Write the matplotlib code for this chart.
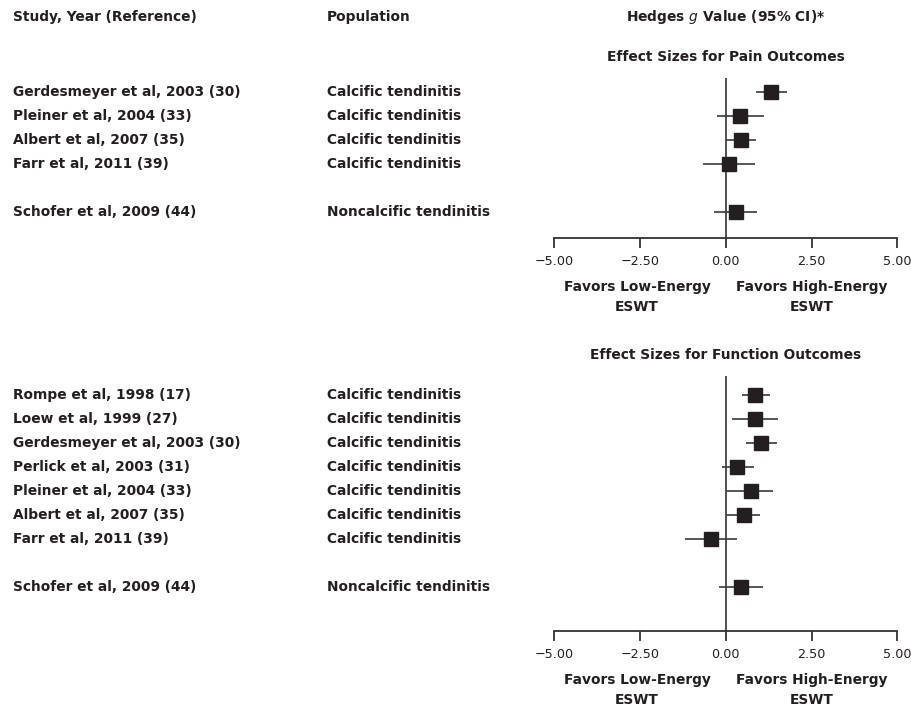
import matplotlib
matplotlib.use("Agg")
import matplotlib.pyplot as plt
import matplotlib.transforms as mtransforms

# pain outcomes
pain_studies = ["Gerdesmeyer et al, 2003 (30)", "Pleiner et al, 2004 (33)",
                "Albert et al, 2007 (35)", "Farr et al, 2011 (39)",
                "Schofer et al, 2009 (44)"]
pain_pop = ["Calcific tendinitis", "Calcific tendinitis", "Calcific tendinitis",
            "Calcific tendinitis", "Noncalcific tendinitis"]
pain_rows = [0, 1, 2, 3, 5]
pain_g = [1.33, 0.42, 0.45, 0.10, 0.30]
pain_lo = [0.89, -0.27, 0.00, -0.66, -0.34]
pain_hi = [1.78, 1.12, 0.88, 0.85, 0.92]

# function outcomes
func_studies = ["Rompe et al, 1998 (17)", "Loew et al, 1999 (27)",
                "Gerdesmeyer et al, 2003 (30)", "Perlick et al, 2003 (31)",
                "Pleiner et al, 2004 (33)", "Albert et al, 2007 (35)",
                "Farr et al, 2011 (39)", "Schofer et al, 2009 (44)"]
func_pop = ["Calcific tendinitis"] * 7 + ["Noncalcific tendinitis"]
func_rows = [0, 1, 2, 3, 4, 5, 6, 8]
func_g = [0.86, 0.84, 1.04, 0.33, 0.74, 0.53, -0.43, 0.45]
func_lo = [0.46, 0.19, 0.60, -0.12, 0.02, 0.02, -1.20, -0.19]
func_hi = [1.28, 1.52, 1.49, 0.81, 1.37, 0.99, 0.32, 1.09]

ticks = [-5, -2.5, 0, 2.5, 5]
tick_labels = ["\u22125.00", "\u22122.50", "0.00", "2.50", "5.00"]

W, H = 912, 712
INK = "#231f20"
FS = 9.9
plt.rcParams["font.family"] = ["DejaVu Sans"]

fig = plt.figure(figsize=(W / 100, H / 100), dpi=100)


def fx(px):
    return px / W


def fy(py):
    return 1 - py / H


def panel(top_px, bottom_px, first_row_px, step_px, title, title_px,
          studies, pops, rows, g, lo, hi):
    x0, x1 = 554.3, 897.3
    ax = fig.add_axes([fx(x0), fy(bottom_px), fx(x1 - x0),
                       (bottom_px - top_px) / H])
    ax.set_xlim(-5, 5)
    ax.set_ylim((bottom_px - first_row_px) / step_px,
                (top_px - first_row_px) / step_px)
    for s in ["top", "right", "left"]:
        ax.spines[s].set_visible(False)
    ax.spines["bottom"].set_linewidth(1.3)
    ax.spines["bottom"].set_color("#333333")
    ax.set_yticks([])
    ax.set_xticks(ticks)
    ax.set_xticklabels(tick_labels)
    ax.tick_params(axis="x", direction="out", length=7, width=1.3,
                   color="#333333", labelsize=9.2, labelcolor=INK, pad=5)
    ax.patch.set_alpha(0)
    ax.axvline(0, color="#333333", lw=1.2, zorder=1)
    ax.hlines(rows, lo, hi, color="#3a3a3a", lw=1.2, zorder=2)
    ax.plot(g, rows, "s", color=INK, markersize=10.5, zorder=3)

    trans = mtransforms.blended_transform_factory(fig.transFigure, ax.transData)
    for r, s, p in zip(rows, studies, pops):
        ax.text(fx(13), r, s, transform=trans, ha="left", va="center",
                fontsize=FS, fontweight="bold", color=INK)
        ax.text(fx(327), r, p, transform=trans, ha="left", va="center",
                fontsize=FS, fontweight="bold", color=INK)

    fig.text(fx(726), fy(title_px), title, ha="center", va="center",
             fontsize=FS, fontweight="bold", color=INK)
    fig.text(fx(637), fy(bottom_px + 59), "Favors Low-Energy\nESWT",
             ha="center", va="center", fontsize=FS, fontweight="bold",
             color=INK, linespacing=1.5)
    fig.text(fx(812), fy(bottom_px + 59), "Favors High-Energy\nESWT",
             ha="center", va="center", fontsize=FS, fontweight="bold",
             color=INK, linespacing=1.5)
    return ax


fig.text(fx(13), fy(17), "Study, Year (Reference)", ha="left", va="center",
         fontsize=FS, fontweight="bold", color=INK)
fig.text(fx(327), fy(17), "Population", ha="left", va="center",
         fontsize=FS, fontweight="bold", color=INK)
fig.text(fx(726), fy(17), "Hedges $\\mathit{g}$ Value (95% CI)*", ha="center",
         va="center", fontsize=FS, fontweight="bold", color=INK)

panel(78, 238, 92, 24, "Effect Sizes for Pain Outcomes", 57,
      pain_studies, pain_pop, pain_rows, pain_g, pain_lo, pain_hi)
panel(376, 631, 395, 24, "Effect Sizes for Function Outcomes", 355,
      func_studies, func_pop, func_rows, func_g, func_lo, func_hi)

fig.savefig("out.png", dpi=100)
